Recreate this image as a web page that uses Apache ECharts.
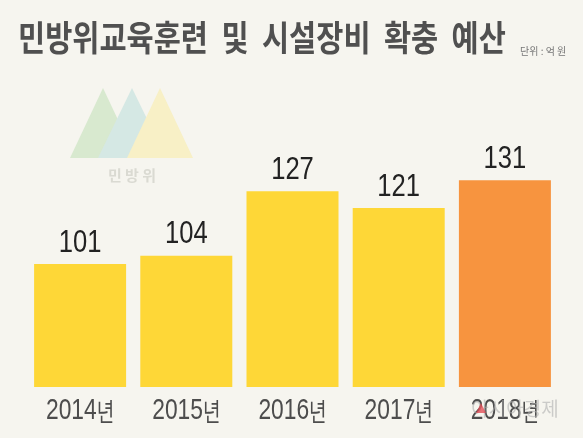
<!DOCTYPE html>
<html>
<head>
<meta charset="utf-8">
<script src="https://cdn.jsdelivr.net/npm/echarts@6/dist/echarts.min.js"></script>
<style>
html,body{margin:0;padding:0;background:#F6F5EF;}
#main{width:583px;height:438px;}
</style>
</head>
<body>
<div id="main"></div>
<script>
const categories = ['2014년', '2015년', '2016년', '2017년', '2018년'];
const budget = [101, 104, 127, 121, 131];
const barColors = ['#FED737', '#FED737', '#FED737', '#FED737', '#F7943F'];
const titleText = '민방위교육훈련  및  시설장비  확충  예산';
const unitText = '단위 : 억 원';

const chart = echarts.init(document.getElementById('main'));

const staticGraphics = [
  { type: 'polygon', silent: true, shape: { points: [[103, 88], [70, 158], [136, 158]] }, style: { fill: '#D8E9CF' } },
  { type: 'polygon', silent: true, shape: { points: [[132, 88], [98, 158], [166, 158]] }, style: { fill: '#D5E8E4' } },
  { type: 'polygon', silent: true, shape: { points: [[160, 88], [127, 158], [193, 158]] }, style: { fill: '#F8F0C6' } },
  { type: 'text', silent: true, x: 132, y: 175, style: { text: '민 방 위', fontFamily: '"Noto Sans CJK KR", sans-serif', fontSize: 15, fontWeight: 'bold', fill: '#DADAD2', align: 'center', verticalAlign: 'middle' } },
  { type: 'text', silent: true, x: 18, y: 38, scaleX: 0.843, style: { text: titleText, fontFamily: '"Noto Sans CJK KR", sans-serif', fontSize: 35, fontWeight: 'bold', fill: '#505050', align: 'left', verticalAlign: 'middle' } },
  { type: 'text', silent: true, x: 520, y: 51, style: { text: unitText, fontFamily: '"Noto Sans CJK KR", sans-serif', fontSize: 10, fill: '#777', align: 'left', verticalAlign: 'middle' } }
];

const option = {
  backgroundColor: '#F6F5EF',
  animation: false,
  grid: { left: 27, right: 25, top: 155, bottom: 51 },
  xAxis: {
    type: 'category',
    data: categories,
    axisLine: { show: false },
    axisTick: { show: false },
    axisLabel: { show: false }
  },
  yAxis: { type: 'value', min: 57, max: 140, show: false, splitLine: { show: false } },
  series: [{
    type: 'bar',
    barWidth: 92,
    data: budget.map((v, i) => ({ value: v, itemStyle: { color: barColors[i] } })),
    label: { show: false }
  }],
  graphic: staticGraphics
};
chart.setOption(option);

// Condensed value labels and category labels, placed through the chart's own scales
const dyn = [];
const baseY = chart.convertToPixel({ gridIndex: 0 }, [0, 57])[1];
categories.forEach((c, i) => {
  const p = chart.convertToPixel({ seriesIndex: 0 }, [i, budget[i]]);
  dyn.push({
    type: 'text', silent: true, x: p[0], y: p[1] - 5, scaleX: 0.8, z: 50,
    style: { text: String(budget[i]), fontFamily: '"Liberation Sans", Arial, sans-serif', fontSize: 32, fill: '#222', align: 'center', verticalAlign: 'bottom' }
  });
  dyn.push({
    type: 'text', silent: true, x: p[0], y: baseY + 24, scaleX: 0.76, z: 50,
    style: {
      text: '{a|' + c.replace('년', '') + '}{b|년}',
      align: 'center', verticalAlign: 'middle',
      rich: {
        a: { fontFamily: '"Liberation Sans", Arial, sans-serif', fontSize: 30, fill: '#4d4d4d' },
        b: { fontFamily: '"Noto Sans CJK KR", sans-serif', fontSize: 25, fill: '#4d4d4d' }
      }
    }
  });
});
dyn.push({ type: 'text', silent: true, x: 515, y: 409, z: 100, style: { text: '아시아경제', fontFamily: '"Noto Sans CJK KR", sans-serif', fontSize: 19, fill: 'rgba(175,175,175,0.6)', align: 'center', verticalAlign: 'middle' } });
dyn.push({ type: 'polygon', silent: true, z: 101, shape: { points: [[481, 403], [476, 413], [486, 413]] }, style: { fill: 'rgba(225,70,80,0.75)' } });

chart.setOption({ graphic: staticGraphics.concat(dyn) });
</script>
</body>
</html>
